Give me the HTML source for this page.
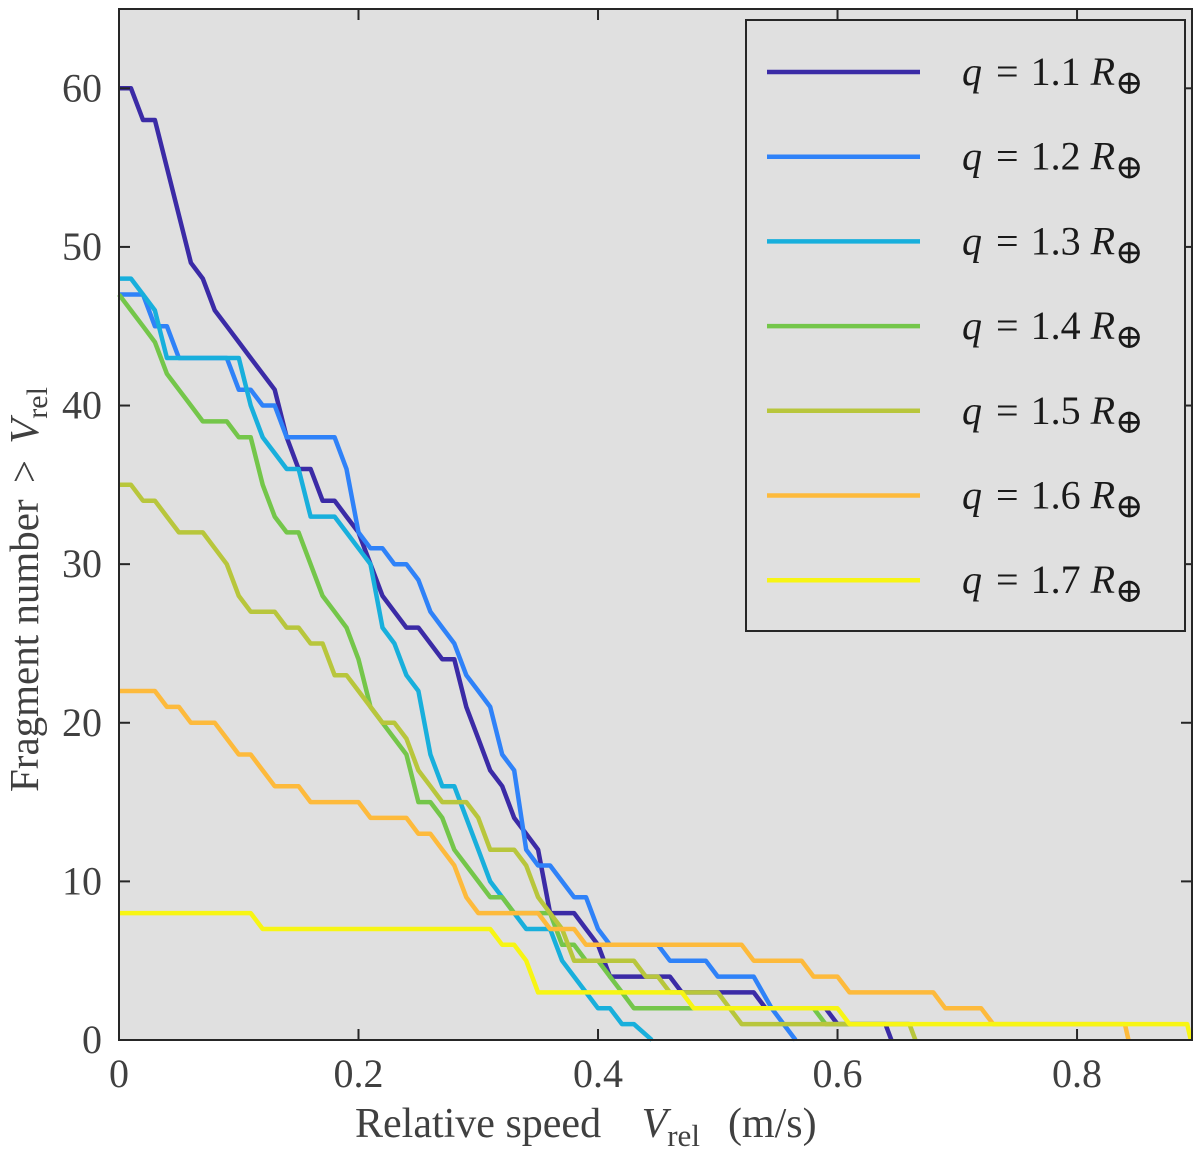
<!DOCTYPE html>
<html><head><meta charset="utf-8">
<style>
body{margin:0;background:#fff;}
svg{display:block;font-family:"Liberation Serif","DejaVu Serif",serif;}
</style></head>
<body>
<svg id="chart" width="1200" height="1155" viewBox="0 0 1200 1155" xmlns="http://www.w3.org/2000/svg" font-family="Liberation Serif, serif">
<rect x="119" y="9" width="1073" height="1031" fill="#e0e0e0"/>
<g id="series"></g>
<rect x="119" y="9" width="1073" height="1031" fill="none" stroke="#262626" stroke-width="2"/>
<g id="ticks"></g>
<g id="legend"></g>
<text x="355" y="1137" font-size="42" fill="#404040">Relative speed <tspan dx="30" font-style="italic">V</tspan><tspan font-size="31" dy="9">rel</tspan><tspan dy="-9" dx="28">(m/s)</tspan></text>
<text transform="translate(38,792) rotate(-90)" font-size="41" fill="#404040">Fragment number <tspan dx="6">&gt;</tspan> <tspan dx="6" font-style="italic">V</tspan><tspan font-size="30" dy="9">rel</tspan></text>
</svg>
<script>
const labels = ["1.1","1.2","1.3","1.4","1.5","1.6","1.7"];
const colors = ["#3b2ba6","#2f82f8","#18afdc","#74c64a","#b8c63c","#fdba3c","#f7f514"];
const x11 = [0,0.01,0.02,0.03,0.04,0.05,0.06,0.07,0.08,0.09,0.1,0.11,0.12,0.13,0.14,0.15,0.16,0.17,0.18,0.19,0.2,0.21,0.22,0.23,0.24,0.25,0.26,0.27,0.28,0.29,0.3,0.31,0.32,0.33,0.34,0.35,0.36,0.38,0.39,0.4,0.41,0.46,0.47,0.53,0.54,0.59,0.6,0.64,0.645];
const y11 = [60,60,58,58,55,52,49,48,46,45,44,43,42,41,38,36,36,34,34,33,32,30,28,27,26,26,25,24,24,21,19,17,16,14,13,12,8,8,7,6,4,4,3,3,2,2,1,1,0];
const x12 = [0,0.02,0.03,0.04,0.05,0.09,0.1,0.11,0.12,0.13,0.14,0.18,0.19,0.2,0.21,0.22,0.23,0.24,0.25,0.26,0.27,0.28,0.29,0.3,0.31,0.32,0.33,0.34,0.35,0.36,0.37,0.38,0.39,0.4,0.41,0.45,0.46,0.49,0.5,0.53,0.545,0.555,0.565];
const y12 = [47,47,45,45,43,43,41,41,40,40,38,38,36,32,31,31,30,30,29,27,26,25,23,22,21,18,17,12,11,11,10,9,9,7,6,6,5,5,4,4,2,1,0];
const x13 = [0,0.01,0.02,0.03,0.04,0.1,0.11,0.12,0.13,0.14,0.15,0.16,0.18,0.19,0.2,0.21,0.22,0.23,0.24,0.25,0.26,0.27,0.28,0.29,0.3,0.31,0.32,0.33,0.34,0.36,0.37,0.38,0.39,0.4,0.41,0.42,0.43,0.445];
const y13 = [48,48,47,46,43,43,40,38,37,36,36,33,33,32,31,30,26,25,23,22,18,16,16,14,12,10,9,8,7,7,5,4,3,2,2,1,1,0];
const x14 = [0,0.01,0.02,0.03,0.04,0.05,0.06,0.07,0.09,0.1,0.11,0.12,0.13,0.14,0.15,0.16,0.17,0.18,0.19,0.2,0.21,0.22,0.23,0.24,0.25,0.26,0.27,0.28,0.29,0.3,0.31,0.32,0.33,0.36,0.37,0.38,0.39,0.4,0.41,0.42,0.43,0.58,0.59,0.66];
const y14 = [47,46,45,44,42,41,40,39,39,38,38,35,33,32,32,30,28,27,26,24,21,20,19,18,15,15,14,12,11,10,9,9,8,8,6,6,5,5,4,3,2,2,1,1];
const x15 = [0,0.01,0.02,0.03,0.04,0.05,0.07,0.08,0.09,0.1,0.11,0.13,0.14,0.15,0.16,0.17,0.18,0.19,0.2,0.21,0.22,0.23,0.24,0.25,0.26,0.27,0.29,0.3,0.31,0.33,0.34,0.35,0.36,0.37,0.38,0.43,0.44,0.45,0.46,0.5,0.51,0.52,0.66,0.665];
const y15 = [35,35,34,34,33,32,32,31,30,28,27,27,26,26,25,25,23,23,22,21,20,20,19,17,16,15,15,14,12,12,11,9,8,7,5,5,4,4,3,3,2,1,1,0];
const x16 = [0,0.03,0.04,0.05,0.06,0.08,0.09,0.1,0.11,0.12,0.13,0.15,0.16,0.2,0.21,0.24,0.25,0.26,0.27,0.28,0.29,0.3,0.35,0.36,0.38,0.39,0.52,0.53,0.57,0.58,0.6,0.61,0.68,0.69,0.72,0.73,0.84,0.843];
const y16 = [22,22,21,21,20,20,19,18,18,17,16,16,15,15,14,14,13,13,12,11,9,8,8,7,7,6,6,5,5,4,4,3,3,2,2,1,1,0];
const x17 = [0,0.11,0.12,0.31,0.32,0.33,0.34,0.35,0.47,0.48,0.6,0.61,0.892,0.895];
const y17 = [8,8,7,7,6,6,5,3,3,2,2,1,1,0];
const xTicks = [0,0.2,0.4,0.6,0.8];
const xTickLabels = ["0","0.2","0.4","0.6","0.8"];
const yTicks = [0,10,20,30,40,50,60];
const yTickLabels = ["0","10","20","30","40","50","60"];

const X0=119, X1=1192, Y0=1040, Y1=9, XMAX=0.896, YMAX=65;
const sx = v => X0 + v/XMAX*(X1-X0);
const sy = v => Y0 - v/YMAX*(Y0-Y1);
const NS="http://www.w3.org/2000/svg";
const xs=[x11,x12,x13,x14,x15,x16,x17], ys=[y11,y12,y13,y14,y15,y16,y17];
const g=document.getElementById('series');
for(let i=0;i<7;i++){
  const p=document.createElementNS(NS,'polyline');
  p.setAttribute('points', xs[i].map((v,j)=>sx(v).toFixed(1)+','+sy(ys[i][j]).toFixed(1)).join(' '));
  p.setAttribute('fill','none');p.setAttribute('stroke',colors[i]);p.setAttribute('stroke-width','4.5');
  p.setAttribute('stroke-linejoin','round');
  
  
  g.appendChild(p);
}
const t=document.getElementById('ticks');
function line(x1,y1,x2,y2){const l=document.createElementNS(NS,'line');l.setAttribute('x1',x1);l.setAttribute('y1',y1);l.setAttribute('x2',x2);l.setAttribute('y2',y2);l.setAttribute('stroke','#262626');l.setAttribute('stroke-width','2');


t.appendChild(l);}
function text(x,y,s,anchor){const e=document.createElementNS(NS,'text');e.setAttribute('x',x);e.setAttribute('y',y);e.setAttribute('font-size','40');e.setAttribute('fill','#404040');e.setAttribute('text-anchor',anchor);e.textContent=s;


t.appendChild(e);}
xTicks.forEach((v,i)=>{const x=sx(v);line(x,Y0,x,Y0-11);line(x,Y1,x,Y1+11);text(x,1087,xTickLabels[i],'middle');});
yTicks.forEach((v,i)=>{const y=sy(v);line(X0,y,X0+11,y);line(X1,y,X1-11,y);text(102,y+13,yTickLabels[i],'end');});
const lg=document.getElementById('legend');
const box=document.createElementNS(NS,'rect');
box.setAttribute('x',746);box.setAttribute('y',20);box.setAttribute('width',439);box.setAttribute('height',611);
box.setAttribute('fill','#e0e0e0');box.setAttribute('stroke','#262626');box.setAttribute('stroke-width','2');


lg.appendChild(box);
for(let i=0;i<7;i++){
  const y=72+i*84.7;
  const l=document.createElementNS(NS,'line');
  l.setAttribute('x1',767);l.setAttribute('x2',920);l.setAttribute('y1',y);l.setAttribute('y2',y);
  l.setAttribute('stroke',colors[i]);l.setAttribute('stroke-width','4.5');
  
  
  lg.appendChild(l);
  const e=document.createElementNS(NS,'text');
  e.setAttribute('x',962);e.setAttribute('y',y+13);e.setAttribute('font-size','40');e.setAttribute('fill','#1a1a1a');
  e.innerHTML='<tspan font-style="italic">q</tspan><tspan dx="14">=</tspan><tspan dx="12">'+labels[i]+'</tspan><tspan dx="10" font-style="italic">R</tspan><tspan font-size="34" dy="9">⊕</tspan>';
  
  
  lg.appendChild(e);
}
</script>
</body></html>
